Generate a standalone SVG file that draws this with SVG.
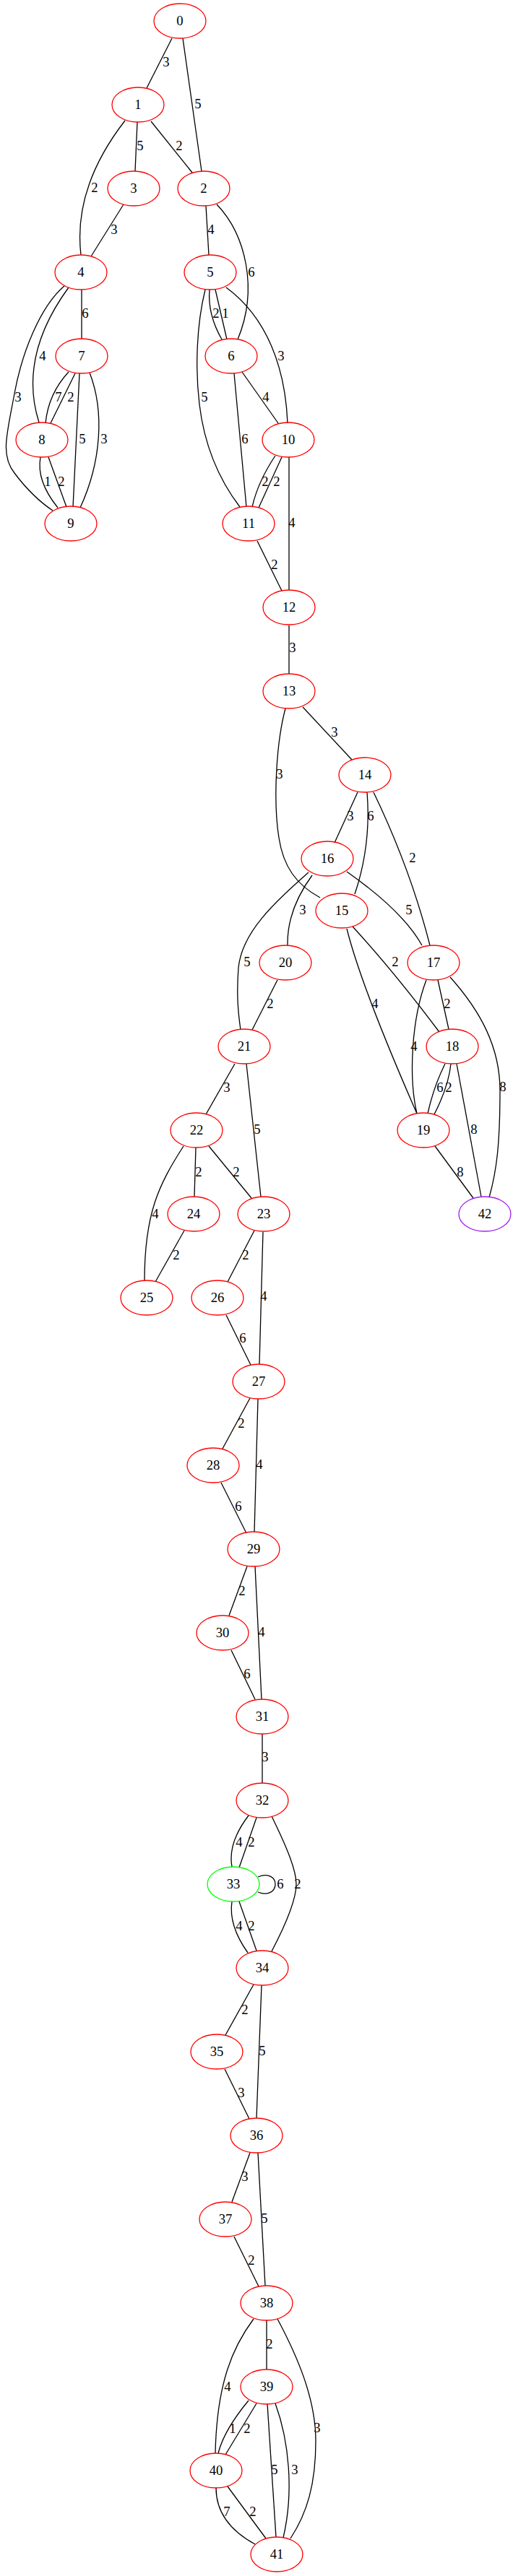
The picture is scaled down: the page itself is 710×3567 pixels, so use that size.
<svg xmlns="http://www.w3.org/2000/svg" width="710" height="3567" viewBox="0 0 710 3567">
<style>
.n ellipse{fill:none;stroke:#ff0000;stroke-width:1.3}
.g ellipse{stroke:#00ff00}
.p ellipse{stroke:#a020f0}
.n text{font-family:"Liberation Serif","Times New Roman",serif;font-size:18.67px;text-anchor:middle;fill:#000}
#edges path{fill:none;stroke:#000;stroke-width:1.3}
#edges text{font-family:"Liberation Serif","Times New Roman",serif;font-size:18.67px;text-anchor:middle;fill:#000}
</style>
<rect width="710" height="3567" fill="#fff"/>
<g id="edges">
<path d="M238,53 L203,122"/><text x="230" y="92">3</text>
<path d="M253,53 L279,237"/><text x="274" y="150">5</text>
<path d="M190,169 L187,237"/><text x="194" y="208">5</text>
<path d="M209,168 L266,239"/><text x="248" y="208">2</text>
<path d="M173,167 Q101,260 112,353"/><text x="131" y="266">2</text>
<path d="M171,283 L126,355"/><text x="158" y="324">3</text>
<path d="M285,285 L289,353"/><text x="292" y="324">4</text>
<path d="M300,283 C340,325 358,400 329,470"/><text x="348" y="383">6</text>
<path d="M113,401 L113,469"/><text x="118" y="440">6</text>
<path d="M95,398 Q25,494 54,585"/><text x="59" y="499">4</text>
<path d="M89,396 C55,425 30,490 20,545 C10,600 0,630 20,655 C35,675 55,695 73,707"/><text x="25" y="556">3</text>
<path d="M95,515 Q67,545 63,586"/><text x="81" y="556">7</text>
<path d="M104,517 L70,586"/><text x="98" y="556">2</text>
<path d="M110,517 L101,702"/><text x="114" y="614">5</text>
<path d="M124,516 C145,570 140,640 111,703"/><text x="144" y="614">3</text>
<path d="M56,633 Q50,666 80,703"/><text x="66" y="673">1</text>
<path d="M67,633 L92,702"/><text x="85" y="673">2</text>
<path d="M290,401 Q287,435 307,470"/><text x="299" y="440">2</text>
<path d="M298,401 L314,470"/><text x="312" y="440">1</text>
<path d="M313,398 C370,440 395,510 398,586"/><text x="389" y="499">3</text>
<path d="M284,401 C272,450 270,510 276,560 C282,610 300,660 332,702"/><text x="283" y="556">5</text>
<path d="M324,517 L341,702"/><text x="339" y="614">6</text>
<path d="M335,515 L385,586"/><text x="368" y="556">4</text>
<path d="M381,631 Q357,667 349,702"/><text x="367" y="673">2</text>
<path d="M390,633 L358,703"/><text x="383" y="673">2</text>
<path d="M400,633 L400,817"/><text x="404" y="730">4</text>
<path d="M356,749 L390,818"/><text x="380" y="788">2</text>
<path d="M400,866 L400,933"/><text x="405" y="903">3</text>
<path d="M419,979 L487,1052"/><text x="463" y="1020">3</text>
<path d="M395,981 C382,1030 378,1110 386,1160 C392,1200 410,1225 443,1243"/><text x="387" y="1078">3</text>
<path d="M495,1097 L463,1167"/><text x="485" y="1136">3</text>
<path d="M508,1097 Q514,1170 491,1238"/><text x="513" y="1136">6</text>
<path d="M517,1097 Q568,1203 595,1309"/><text x="571" y="1194">2</text>
<path d="M480,1207 Q558,1262 584,1309"/><text x="566" y="1266">5</text>
<path d="M432,1212 Q397,1260 398,1309"/><text x="419" y="1266">3</text>
<path d="M427,1208 C380,1250 335,1290 330,1340 C327,1380 330,1405 333,1426"/><text x="342" y="1338">5</text>
<path d="M384,1357 L349,1426"/><text x="374" y="1396">2</text>
<path d="M480,1286 Q500,1366 577,1542"/><text x="519" y="1396">4</text>
<path d="M488,1283 Q545,1345 608,1429"/><text x="547" y="1338">2</text>
<path d="M606,1357 L621,1425"/><text x="619" y="1396">2</text>
<path d="M590,1357 C570,1410 565,1490 577,1542"/><text x="573" y="1455">4</text>
<path d="M623,1353 C665,1400 692,1450 692,1510 C692,1580 688,1620 677,1658"/><text x="696" y="1511">8</text>
<path d="M616,1473 Q600,1505 592,1542"/><text x="609" y="1512">6</text>
<path d="M624,1473 Q621,1504 601,1543"/><text x="621" y="1512">2</text>
<path d="M632,1473 L666,1657"/><text x="656" y="1570">8</text>
<path d="M602,1587 L655,1659"/><text x="637" y="1629">8</text>
<path d="M325,1473 L285,1543"/><text x="314" y="1512">3</text>
<path d="M341,1473 L361,1657"/><text x="356" y="1570">5</text>
<path d="M271,1589 L269,1657"/><text x="275" y="1629">2</text>
<path d="M289,1587 L348,1659"/><text x="327" y="1629">2</text>
<path d="M254,1587 C220,1640 200,1680 200,1773"/><text x="215" y="1687">4</text>
<path d="M255,1704 L215,1775"/><text x="244" y="1744">2</text>
<path d="M352,1704 L315,1775"/><text x="340" y="1744">2</text>
<path d="M364,1706 L359,1889"/><text x="365" y="1801">4</text>
<path d="M313,1821 L347,1890"/><text x="336" y="1859">6</text>
<path d="M346,1936 L308,2006"/><text x="334" y="1977">2</text>
<path d="M357,1937 L352,2122"/><text x="359" y="2034">4</text>
<path d="M306,2053 L341,2123"/><text x="330" y="2092">6</text>
<path d="M342,2169 L317,2237"/><text x="335" y="2209">2</text>
<path d="M353,2169 L362,2353"/><text x="362" y="2266">4</text>
<path d="M320,2285 L353,2353"/><text x="342" y="2324">6</text>
<path d="M363,2401 L363,2469"/><text x="367" y="2439">3</text>
<path d="M344,2514 Q315,2552 321,2585"/><text x="331" y="2557">4</text>
<path d="M355,2517 L331,2586"/><text x="348" y="2557">2</text>
<path d="M376,2515 C398,2560 410,2590 410,2609 C410,2630 398,2660 376,2702"/><text x="412" y="2615">2</text>
<path d="M357,2599 C372,2593 381,2600 381,2609 C381,2618 372,2626 357,2620"/><text x="388" y="2615">6</text>
<path d="M321,2633 Q316,2666 343,2704"/><text x="331" y="2673">4</text>
<path d="M331,2633 L355,2701"/><text x="348" y="2673">2</text>
<path d="M351,2748 L312,2818"/><text x="339" y="2789">2</text>
<path d="M362,2749 L355,2933"/><text x="363" y="2846">5</text>
<path d="M311,2865 L345,2934"/><text x="334" y="2904">3</text>
<path d="M346,2981 L321,3049"/><text x="339" y="3020">3</text>
<path d="M357,2981 L367,3165"/><text x="366" y="3078">5</text>
<path d="M324,3097 L358,3166"/><text x="348" y="3136">2</text>
<path d="M369,3213 L369,3281"/><text x="373" y="3252">2</text>
<path d="M351,3211 C322,3250 300,3300 298,3397"/><text x="315" y="3311">4</text>
<path d="M384,3211 C410,3260 437,3320 437,3380 C437,3440 425,3480 402,3515"/><text x="439" y="3368">3</text>
<path d="M344,3324 Q310,3365 302,3397"/><text x="322" y="3369">1</text>
<path d="M355,3328 L312,3399"/><text x="342" y="3369">2</text>
<path d="M370,3329 L382,3513"/><text x="380" y="3426">5</text>
<path d="M381,3328 C400,3380 407,3450 392,3514"/><text x="408" y="3426">3</text>
<path d="M299,3445 C299,3480 320,3505 353,3523"/><text x="314" y="3484">7</text>
<path d="M315,3443 L368,3515"/><text x="350" y="3484">2</text>
</g>
<g id="node0" class="n"><ellipse cx="249" cy="29" rx="36" ry="24"/><text x="249" y="35">0</text></g>
<g id="node1" class="n"><ellipse cx="191" cy="145" rx="36" ry="24"/><text x="191" y="151">1</text></g>
<g id="node2" class="n"><ellipse cx="282" cy="261" rx="36" ry="24"/><text x="282" y="267">2</text></g>
<g id="node3" class="n"><ellipse cx="185" cy="261" rx="36" ry="24"/><text x="185" y="267">3</text></g>
<g id="node4" class="n"><ellipse cx="112" cy="377" rx="36" ry="24"/><text x="112" y="383">4</text></g>
<g id="node5" class="n"><ellipse cx="291" cy="377" rx="36" ry="24"/><text x="291" y="383">5</text></g>
<g id="node6" class="n"><ellipse cx="320" cy="493" rx="36" ry="24"/><text x="320" y="499">6</text></g>
<g id="node7" class="n"><ellipse cx="113" cy="493" rx="36" ry="24"/><text x="113" y="499">7</text></g>
<g id="node8" class="n"><ellipse cx="58" cy="609" rx="36" ry="24"/><text x="58" y="615">8</text></g>
<g id="node9" class="n"><ellipse cx="98" cy="725" rx="36" ry="24"/><text x="98" y="731">9</text></g>
<g id="node10" class="n"><ellipse cx="399" cy="609" rx="36" ry="24"/><text x="399" y="615">10</text></g>
<g id="node11" class="n"><ellipse cx="344" cy="725" rx="36" ry="24"/><text x="344" y="731">11</text></g>
<g id="node12" class="n"><ellipse cx="400" cy="841" rx="36" ry="24"/><text x="400" y="847">12</text></g>
<g id="node13" class="n"><ellipse cx="400" cy="957" rx="36" ry="24"/><text x="400" y="963">13</text></g>
<g id="node14" class="n"><ellipse cx="505" cy="1073" rx="36" ry="24"/><text x="505" y="1079">14</text></g>
<g id="node15" class="n"><ellipse cx="473" cy="1261" rx="36" ry="24"/><text x="473" y="1267">15</text></g>
<g id="node16" class="n"><ellipse cx="453" cy="1189" rx="36" ry="24"/><text x="453" y="1195">16</text></g>
<g id="node17" class="n"><ellipse cx="600" cy="1333" rx="36" ry="24"/><text x="600" y="1339">17</text></g>
<g id="node18" class="n"><ellipse cx="626" cy="1449" rx="36" ry="24"/><text x="626" y="1455">18</text></g>
<g id="node19" class="n"><ellipse cx="586" cy="1565" rx="36" ry="24"/><text x="586" y="1571">19</text></g>
<g id="node20" class="n"><ellipse cx="395" cy="1333" rx="36" ry="24"/><text x="395" y="1339">20</text></g>
<g id="node21" class="n"><ellipse cx="338" cy="1449" rx="36" ry="24"/><text x="338" y="1455">21</text></g>
<g id="node22" class="n"><ellipse cx="272" cy="1565" rx="36" ry="24"/><text x="272" y="1571">22</text></g>
<g id="node23" class="n"><ellipse cx="365" cy="1681" rx="36" ry="24"/><text x="365" y="1687">23</text></g>
<g id="node24" class="n"><ellipse cx="268" cy="1681" rx="36" ry="24"/><text x="268" y="1687">24</text></g>
<g id="node25" class="n"><ellipse cx="203" cy="1797" rx="36" ry="24"/><text x="203" y="1803">25</text></g>
<g id="node26" class="n"><ellipse cx="301" cy="1797" rx="36" ry="24"/><text x="301" y="1803">26</text></g>
<g id="node27" class="n"><ellipse cx="358" cy="1913" rx="36" ry="24"/><text x="358" y="1919">27</text></g>
<g id="node28" class="n"><ellipse cx="295" cy="2029" rx="36" ry="24"/><text x="295" y="2035">28</text></g>
<g id="node29" class="n"><ellipse cx="351" cy="2145" rx="36" ry="24"/><text x="351" y="2151">29</text></g>
<g id="node30" class="n"><ellipse cx="308" cy="2261" rx="36" ry="24"/><text x="308" y="2267">30</text></g>
<g id="node31" class="n"><ellipse cx="363" cy="2377" rx="36" ry="24"/><text x="363" y="2383">31</text></g>
<g id="node32" class="n"><ellipse cx="363" cy="2493" rx="36" ry="24"/><text x="363" y="2499">32</text></g>
<g id="node33" class="n g"><ellipse cx="323" cy="2609" rx="36" ry="24"/><text x="323" y="2615">33</text></g>
<g id="node34" class="n"><ellipse cx="363" cy="2725" rx="36" ry="24"/><text x="363" y="2731">34</text></g>
<g id="node35" class="n"><ellipse cx="300" cy="2841" rx="36" ry="24"/><text x="300" y="2847">35</text></g>
<g id="node36" class="n"><ellipse cx="355" cy="2957" rx="36" ry="24"/><text x="355" y="2963">36</text></g>
<g id="node37" class="n"><ellipse cx="312" cy="3073" rx="36" ry="24"/><text x="312" y="3079">37</text></g>
<g id="node38" class="n"><ellipse cx="369" cy="3189" rx="36" ry="24"/><text x="369" y="3195">38</text></g>
<g id="node39" class="n"><ellipse cx="369" cy="3305" rx="36" ry="24"/><text x="369" y="3311">39</text></g>
<g id="node40" class="n"><ellipse cx="299" cy="3421" rx="36" ry="24"/><text x="299" y="3427">40</text></g>
<g id="node41" class="n"><ellipse cx="383" cy="3537" rx="36" ry="24"/><text x="383" y="3543">41</text></g>
<g id="node42" class="n p"><ellipse cx="671" cy="1681" rx="36" ry="24"/><text x="671" y="1687">42</text></g>
</svg>
